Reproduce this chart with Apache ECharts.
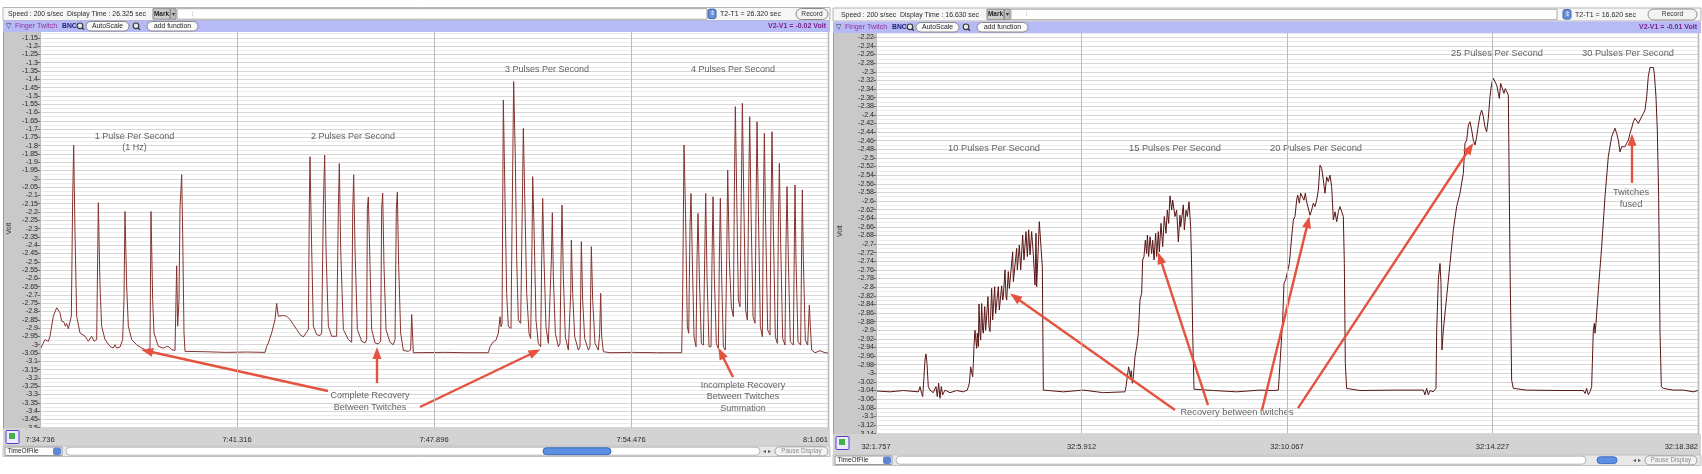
<!DOCTYPE html>
<html><head><meta charset="utf-8">
<script src="https://cdn.jsdelivr.net/npm/echarts/dist/echarts.min.js"></script>
<style>html,body{margin:0;padding:0;background:#fff}#c{width:1702px;height:474px}</style>
</head><body><div id="c"></div>
<script>
// ---------------- DATA ----------------
const leftTickLabels = ['7:34.736','7:41.316','7:47.896','7:54.476','8:1.061'];
const rightTickLabels = ['32:1.757','32:5.912','32:10.067','32:14.227','32:18.382'];
const leftSpan = 26.325;   // seconds displayed (left)
const rightSpan = 16.625;  // seconds displayed (right)

// Finger twitch trace, left recording: [time s, volt]
const leftTrace = [
[0.000,-3.030],[0.167,-2.969],[0.278,-2.979],[0.334,-2.949],[0.445,-2.828],[0.557,-2.777],[0.668,-2.807],[0.724,-2.858],[0.802,-2.864],[0.846,-2.888],[0.891,-2.872],[0.947,-2.904],[1.002,-2.915],[1.047,-2.828],[1.091,-2.120],[1.125,-1.797],[1.169,-2.322],[1.225,-2.828],[1.336,-2.929],[1.503,-2.949],[1.615,-2.979],[1.726,-2.949],[1.804,-2.979],[1.893,-2.969],[1.949,-2.144],[2.004,-2.646],[2.060,-2.888],[2.171,-2.969],[2.338,-3.010],[2.450,-3.020],[2.505,-3.000],[2.561,-3.020],[2.672,-3.014],[2.761,-2.969],[2.806,-2.727],[2.839,-2.197],[2.895,-2.646],[2.951,-2.888],[3.062,-2.969],[3.229,-3.000],[3.396,-3.020],[3.563,-3.034],[3.675,-3.020],[3.708,-2.197],[3.764,-2.727],[3.808,-2.929],[3.953,-3.010],[4.120,-3.020],[4.232,-3.010],[4.321,-3.014],[4.399,-3.030],[4.510,-3.034],[4.566,-2.524],[4.599,-2.888],[4.644,-2.727],[4.677,-2.181],[4.733,-1.975],[4.766,-2.322],[4.811,-2.929],[4.844,-3.040],[5.500,-3.042],[6.200,-3.046],[6.900,-3.044],[7.517,-3.046],
[7.572,-3.010],[7.628,-2.989],[7.740,-2.929],[7.851,-2.848],[7.907,-2.751],[7.962,-2.828],[8.018,-2.818],[8.129,-2.824],[8.241,-2.828],[8.352,-2.848],[8.463,-2.878],[8.575,-2.908],[8.686,-2.939],[8.798,-2.953],[8.887,-2.929],[8.965,-2.908],[8.998,-2.161],[9.020,-1.867],[9.076,-2.423],[9.132,-2.888],[9.243,-2.939],[9.354,-2.945],[9.410,-2.929],[9.466,-2.161],[9.510,-1.857],[9.555,-2.423],[9.633,-2.888],[9.744,-2.949],[9.911,-2.949],[9.967,-2.181],[10.000,-1.908],[10.045,-2.423],[10.134,-2.908],[10.301,-2.969],[10.412,-2.985],[10.446,-2.201],[10.479,-1.975],[10.524,-2.423],[10.602,-2.908],[10.747,-2.979],[10.858,-2.989],[10.913,-2.969],[10.936,-2.181],[10.969,-2.110],[11.025,-2.524],[11.080,-2.908],[11.192,-2.989],[11.303,-2.995],[11.381,-2.979],[11.414,-2.181],[11.448,-2.086],[11.492,-2.524],[11.559,-2.908],[11.693,-2.985],[11.804,-3.000],[11.860,-2.969],[11.904,-2.181],[11.938,-2.080],[11.982,-2.524],[12.049,-2.929],[12.138,-3.034],[12.305,-3.040],[12.383,-3.030],[12.417,-2.818],[12.472,-3.048],[13.500,-3.046],[14.300,-3.048],[14.978,-3.048],
[15.034,-3.012],[15.145,-2.982],[15.234,-2.972],[15.312,-2.931],[15.368,-2.831],[15.401,-2.891],[15.435,-2.871],[15.479,-1.525],[15.535,-2.128],[15.590,-2.690],[15.646,-2.891],[15.735,-2.901],[15.769,-2.289],[15.824,-1.414],[15.880,-1.887],[15.925,-2.489],[15.980,-2.851],[16.058,-2.871],[16.103,-2.289],[16.147,-1.696],[16.203,-2.188],[16.259,-2.690],[16.337,-2.931],[16.392,-2.962],[16.437,-2.389],[16.459,-1.987],[16.504,-2.289],[16.570,-2.851],[16.648,-2.992],[16.726,-3.012],[16.760,-2.489],[16.793,-2.118],[16.838,-2.489],[16.904,-2.891],[16.982,-2.992],[17.038,-3.002],[17.083,-2.489],[17.116,-2.204],[17.149,-2.590],[17.216,-2.931],[17.317,-3.012],[17.372,-2.992],[17.406,-2.489],[17.439,-2.158],[17.484,-2.590],[17.550,-2.952],[17.651,-3.032],[17.706,-3.022],[17.729,-2.690],[17.751,-2.369],[17.795,-2.690],[17.862,-2.952],[17.985,-3.032],[18.040,-3.012],[18.063,-2.690],[18.085,-2.379],[18.129,-2.731],[18.196,-2.962],[18.319,-3.032],[18.374,-3.012],[18.397,-2.690],[18.419,-2.409],[18.464,-2.731],[18.541,-2.992],[18.653,-3.032],[18.697,-2.931],[18.731,-2.690],[18.764,-2.952],[18.820,-3.042],[19.043,-3.048],[19.800,-3.046],[20.600,-3.048],[21.437,-3.048],
[21.470,-2.690],[21.515,-1.796],[21.570,-2.248],[21.626,-2.891],[21.671,-2.931],[21.715,-2.289],[21.749,-2.088],[21.793,-2.489],[21.849,-2.952],[21.916,-3.012],[21.949,-2.489],[21.983,-2.208],[22.027,-2.590],[22.094,-2.992],[22.161,-3.002],[22.205,-2.489],[22.239,-2.088],[22.283,-2.590],[22.350,-3.012],[22.417,-3.012],[22.450,-2.489],[22.484,-2.108],[22.528,-2.590],[22.595,-2.992],[22.662,-3.022],[22.695,-2.489],[22.729,-2.118],[22.773,-2.590],[22.829,-3.012],[22.896,-3.032],[22.940,-2.489],[22.974,-1.947],[23.029,-2.489],[23.096,-2.771],[23.163,-2.831],[23.196,-2.088],[23.230,-1.565],[23.274,-2.088],[23.330,-2.731],[23.386,-2.771],[23.430,-2.088],[23.464,-1.545],[23.508,-2.088],[23.575,-2.791],[23.631,-2.851],[23.675,-2.088],[23.709,-1.625],[23.753,-2.188],[23.820,-2.831],[23.887,-2.871],[23.920,-2.188],[23.954,-1.656],[23.998,-2.188],[24.065,-2.891],[24.132,-2.952],[24.165,-2.188],[24.199,-1.726],[24.243,-2.289],[24.310,-2.911],[24.388,-2.942],[24.421,-2.188],[24.455,-1.716],[24.499,-2.289],[24.566,-2.952],[24.633,-2.992],[24.666,-2.289],[24.700,-1.907],[24.744,-2.389],[24.811,-2.962],[24.889,-3.002],[24.922,-2.389],[24.956,-2.047],[25.000,-2.489],[25.067,-2.982],[25.167,-3.002],[25.201,-2.389],[25.223,-2.037],[25.256,-2.489],[25.323,-2.982],[25.412,-3.002],[25.446,-2.389],[25.468,-2.067],[25.501,-2.489],[25.568,-2.972],[25.646,-3.002],[25.680,-2.851],[25.702,-2.761],[25.735,-2.891],[25.780,-3.032],[25.891,-3.048],[26.058,-3.036],[26.225,-3.048],[26.325,-3.050]
];

// Finger twitch trace, right recording: [time s, volt]
const rightTrace = [
[0.000,-3.041],[0.283,-3.043],[0.553,-3.040],[0.856,-3.043],[0.890,-3.031],[0.923,-3.047],[0.944,-3.054],[0.971,-3.008],[0.991,-2.969],[1.011,-2.955],[1.031,-2.977],[1.058,-3.031],[1.092,-3.039],[1.160,-3.045],[1.213,-3.031],[1.240,-3.054],[1.267,-3.023],[1.294,-3.058],[1.321,-3.031],[1.348,-3.050],[1.395,-3.039],[1.496,-3.045],[1.631,-3.040],[1.766,-3.043],[1.847,-3.039],[1.888,-3.023],[1.915,-2.985],[1.935,-2.981],[1.955,-3.008],[1.969,-2.977],[1.982,-2.938],[2.002,-2.900],[2.022,-2.898],[2.036,-2.942],[2.049,-2.907],[2.070,-2.938],
[2.083,-2.839],[2.103,-2.907],[2.117,-2.923],[2.137,-2.838],[2.157,-2.900],[2.171,-2.907],[2.198,-2.845],[2.218,-2.900],[2.238,-2.900],[2.265,-2.822],[2.285,-2.892],[2.306,-2.903],[2.339,-2.803],[2.360,-2.876],[2.400,-2.799],[2.420,-2.861],[2.440,-2.861],[2.474,-2.799],[2.494,-2.853],[2.508,-2.853],[2.541,-2.797],[2.562,-2.830],[2.575,-2.822],[2.609,-2.760],[2.629,-2.822],[2.643,-2.830],[2.676,-2.764],[2.697,-2.803],[2.710,-2.803],[2.764,-2.718],[2.778,-2.787],[2.791,-2.787],[2.845,-2.710],[2.858,-2.760],[2.899,-2.702],[2.926,-2.760],[2.946,-2.760],[2.966,-2.679],[2.993,-2.737],[3.013,-2.737],[3.034,-2.671],[3.061,-2.729],[3.081,-2.729],[3.088,-2.667],[3.115,-2.725],[3.148,-2.671],[3.182,-2.725],[3.216,-2.795],[3.236,-2.675],[3.249,-2.799],[3.283,-2.706],[3.303,-2.648],[3.317,-2.646],[3.337,-2.652],[3.364,-2.753],[3.384,-3.039],[3.418,-3.037],[3.789,-3.043],[4.193,-3.039],[4.598,-3.045],[5.036,-3.043],
[5.056,-3.031],[5.083,-3.008],[5.110,-2.985],[5.124,-2.982],[5.144,-3.008],[5.164,-2.994],[5.184,-3.023],[5.205,-3.008],[5.238,-2.961],[5.272,-2.938],[5.306,-2.907],[5.339,-2.830],[5.373,-2.814],[5.393,-2.737],[5.420,-2.729],[5.447,-2.691],[5.474,-2.722],[5.488,-2.679],[5.515,-2.729],[5.542,-2.683],[5.575,-2.722],[5.596,-2.691],[5.623,-2.737],[5.656,-2.675],[5.677,-2.729],[5.710,-2.671],[5.730,-2.718],[5.764,-2.652],[5.798,-2.706],[5.831,-2.636],[5.865,-2.675],[5.892,-2.621],[5.919,-2.652],[5.946,-2.588],[5.980,-2.621],[6.000,-2.598],[6.047,-2.636],[6.081,-2.621],[6.115,-2.695],[6.148,-2.633],[6.162,-2.660],[6.216,-2.609],[6.236,-2.667],[6.270,-2.621],[6.297,-2.636],[6.331,-2.602],[6.364,-2.660],[6.384,-2.753],[6.405,-2.907],[6.432,-3.037],[6.823,-3.040],[7.295,-3.043],[7.766,-3.039],[8.036,-3.040],
[8.137,-3.039],[8.171,-2.977],[8.225,-2.876],[8.252,-2.791],[8.286,-2.783],[8.319,-2.780],[8.360,-2.745],[8.407,-2.683],[8.441,-2.644],[8.474,-2.636],[8.508,-2.598],[8.528,-2.586],[8.562,-2.605],[8.589,-2.582],[8.623,-2.578],[8.656,-2.598],[8.683,-2.582],[8.710,-2.602],[8.744,-2.605],[8.778,-2.633],[8.811,-2.621],[8.845,-2.605],[8.879,-2.613],[8.912,-2.598],[8.946,-2.575],[8.980,-2.517],[9.014,-2.524],[9.047,-2.551],[9.081,-2.582],[9.115,-2.544],[9.148,-2.555],[9.182,-2.540],[9.216,-2.567],[9.250,-2.644],[9.283,-2.625],[9.317,-2.648],[9.351,-2.625],[9.384,-2.613],[9.418,-2.617],[9.452,-2.636],[9.472,-2.745],[9.492,-2.977],[9.519,-3.035],[9.789,-3.040],[10.463,-3.039],[11.070,-3.039],[11.103,-3.050],[11.137,-3.035],[11.171,-3.050],[11.205,-3.040],[11.272,-3.043],[11.326,-3.035],
[11.340,-2.900],[11.373,-2.783],[11.407,-2.745],[11.427,-2.791],[11.447,-2.946],[11.474,-2.900],[11.542,-2.822],[11.609,-2.745],[11.677,-2.667],[11.744,-2.613],[11.811,-2.582],[11.845,-2.586],[11.879,-2.536],[11.912,-2.466],[11.946,-2.459],[11.980,-2.424],[12.014,-2.416],[12.047,-2.435],[12.081,-2.459],[12.115,-2.470],[12.148,-2.451],[12.182,-2.424],[12.216,-2.401],[12.250,-2.389],[12.283,-2.404],[12.317,-2.428],[12.351,-2.439],[12.384,-2.408],[12.418,-2.358],[12.452,-2.327],[12.486,-2.315],[12.519,-2.319],[12.553,-2.331],[12.587,-2.350],[12.607,-2.362],[12.634,-2.327],[12.668,-2.331],[12.701,-2.350],[12.728,-2.339],[12.755,-2.342],[12.789,-2.354],[12.823,-2.745],[12.856,-3.016],[12.890,-3.035],[13.160,-3.039],[13.834,-3.040],[14.306,-3.040],[14.340,-3.047],[14.373,-3.035],[14.407,-3.050],[14.441,-3.043],[14.474,-3.031],
[14.488,-2.977],[14.508,-2.900],[14.528,-2.884],[14.542,-2.907],[14.562,-2.884],[14.609,-2.807],[14.677,-2.706],[14.744,-2.590],[14.811,-2.497],[14.879,-2.451],[14.946,-2.431],[14.980,-2.443],[15.014,-2.459],[15.047,-2.486],[15.081,-2.474],[15.115,-2.470],[15.148,-2.474],[15.182,-2.466],[15.216,-2.459],[15.250,-2.443],[15.283,-2.431],[15.317,-2.416],[15.351,-2.408],[15.385,-2.412],[15.418,-2.420],[15.452,-2.412],[15.486,-2.408],[15.519,-2.397],[15.553,-2.389],[15.587,-2.358],[15.620,-2.311],[15.654,-2.290],[15.688,-2.288],[15.722,-2.290],[15.742,-2.304],[15.775,-2.358],[15.802,-2.435],[15.829,-2.590],[15.856,-2.900],[15.883,-3.031],[15.924,-3.035],[16.126,-3.039],[16.328,-3.039],[16.531,-3.043],[16.625,-3.040]
];

// Annotation texts: [time, volt, text]
const leftNotes = [
  [3.157,-1.778,'1 Pulse Per Second\n(1 Hz)'],
  [10.456,-1.742,'2 Pulses Per Second'],
  [16.937,-1.344,'3 Pulses Per Second'],
  [23.151,-1.344,'4 Pulses Per Second'],
  [11.024,-3.342,'Complete Recovery\nBetween Twitches'],
  [23.485,-3.315,'Incomplete Recovery\nBetween Twitches\nSummation']
];
const rightNotes = [
  [2.387,-2.477,'10 Pulses Per Second'],
  [6.047,-2.477,'15 Pulses Per Second'],
  [8.899,-2.477,'20 Pulses Per Second'],
  [12.560,-2.257,'25 Pulses Per Second'],
  [15.209,-2.257,'30 Pulses Per Second'],
  [15.270,-2.595,'Twitches\nfused'],
  [7.301,-3.092,'Recovery between twitches']
];
// Arrows: [fromTime, fromVolt, toTime, toVolt]
const leftArrows = [
  [9.621,-3.279,3.575,-3.038],
  [11.258,-3.231,11.258,-3.050],
  [12.695,-3.375,16.536,-3.044],
  [23.151,-3.195,22.750,-3.050]
];
const rightArrows = [
  [6.047,-3.085,2.811,-2.823],
  [6.715,-3.074,5.744,-2.732],
  [7.807,-3.085,8.737,-2.649],
  [8.535,-3.081,12.014,-2.477],
  [15.290,-2.558,15.290,-2.458]
];

// ---------------- CHART ----------------
const FONT = '"Liberation Sans", Arial, Helvetica, sans-serif';
const chart = echarts.init(document.getElementById('c'), null, {renderer:'canvas'});

function R(x,y,w,h,fill,stroke,r,z){
  return {type:'rect',silent:true,z:z==null?20:z,shape:{x:x,y:y,width:w,height:h,r:r||0},
    style:{fill:fill,stroke:stroke||null,lineWidth:stroke?1:0}};
}
function T(x,y,text,size,fill,align,weight,z){
  return {type:'text',silent:true,z:z==null?22:z,x:x,y:y,
    style:{text:text,fontSize:size,fontFamily:FONT,fontWeight:weight||'normal',fill:fill||'#222',
      align:align||'left',verticalAlign:'middle',textAlign:align||'left',textVerticalAlign:'middle'}};
}
function L(x1,y1,x2,y2,stroke,w,z){
  return {type:'line',silent:true,z:z==null?21:z,shape:{x1:x1,y1:y1,x2:x2,y2:y2},style:{stroke:stroke,lineWidth:w||1}};
}
function MAG(cx,cy){
  return [{type:'circle',silent:true,z:22,shape:{cx:cx,cy:cy,r:2.8},style:{fill:'#e9e9e9',stroke:'#3a3a3a',lineWidth:1.2}},
          L(cx+2,cy+2,cx+4,cy+4,'#3a3a3a',1.4,22)];
}

function panelChrome(o){
  const g = [];
  // toolbar
  g.push(R(o.x0,o.tb,o.w,13,'#f6f6f6','#b5b5b5',0,20));
  g.push(T(o.speedX,o.tb+6.6,'Speed : 200 s/sec  Display Time : '+o.disp+' sec',6.9,'#2a2a2a'));
  g.push(R(o.markX,o.tb+1.2,17,10.5,'#cdcdcd','#8a8a8a',0,21));
  g.push(T(o.markX+8.5,o.tb+6.6,'Mark',6.4,'#222','center','bold'));
  g.push(R(o.markX+17.5,o.tb+1.2,5.5,10.5,'#bdbdbd','#8a8a8a',0,21));
  g.push(T(o.markX+20.2,o.tb+6.6,'▾',6,'#333','center'));
  g.push(R(o.markX+24,o.tb+1.2,o.fieldW,10.5,'#ffffff','#a8a8a8',0,21));
  g.push(T(o.markX+40,o.tb+6.6,'⁝',6,'#777','center'));
  g.push(R(o.iconX,o.tb+1.6,8,9.5,'#6a8fd8','#3f64b0',2,21));
  g.push(T(o.iconX+4,o.tb+6.3,'⇕',6,'#fff','center'));
  g.push(T(o.iconX+12,o.tb+6.6,'T2-T1 = '+o.t21+' sec',7,'#2a2a2a'));
  g.push(R(o.recX,o.tb+1,o.recW,11,'#f3f3f3','#8a8a8a',5.5,21));
  g.push(T(o.recX+o.recW/2,o.tb+6.6,'Record',6.6,'#333','center'));
  // purple channel bar
  g.push(R(o.x0,o.pb,o.w,o.pbH,'#b6bbf6',null,0,20));
  g.push(T(o.x0+5.5,o.pb+5.8,'▽',6.5,'#333','center'));
  g.push(T(o.ftX,o.pb+6,'Finger Twitch',7.1,'#9b2c9c'));
  g.push(T(o.ftX+47,o.pb+6,'BNC',6.8,'#1c1c78','left','bold'));
  MAG(o.ftX+65,o.pb+5.3).forEach(e=>g.push(e));
  g.push(R(o.ftX+71,o.pb+1,43,9.5,'#fafafa','#888',4.75,21));
  g.push(T(o.ftX+92.5,o.pb+6,'AutoScale',6.8,'#222','center'));
  MAG(o.ftX+121,o.pb+5.3).forEach(e=>g.push(e));
  g.push(R(o.ftX+132,o.pb+1,51,9.5,'#fafafa','#888',4.75,21));
  g.push(T(o.ftX+157.5,o.pb+6,'add function',6.8,'#222','center'));
  g.push(T(o.x0+o.w-4,o.pb+6,'V2-V1 = '+o.v21+' Volt',7,'#7a1f8c','right','bold'));
  // y-axis side panel
  g.push(R(o.x0,o.pb+o.pbH,o.sideW,o.band-(o.pb+o.pbH),'#c9c9c9',null,0,0));
  g.push(L(o.x0+0.5,o.pb+o.pbH,o.x0+0.5,o.band,'#9a9a9a',1,1));
  // plot right border
  g.push(L(o.plotR+0.5,o.pb+o.pbH,o.plotR+0.5,o.band,'#94a0e6',1.5,6));
  // bottom time band
  g.push(R(o.x0,o.band,o.w,o.bandH,'#d3d3d3',null,0,6));
  g.push(R(o.x0+3,o.band+2.5,13,13,'#ecebff','#5b3fd0',1,7));
  g.push(R(o.x0+6,o.band+5,6,6,'#44b04c',null,0,8));
  // scroll row
  const sr = o.band+o.bandH;
  g.push(R(o.x0,sr,o.w,10.5,'#e8e8e8','#c2c2c2',0,20));
  g.push(R(o.x0+2,sr+1,57,8.5,'#fdfdfd','#999',0,21));
  g.push(T(o.x0+4.5,sr+5.3,'TimeOfFile',6.4,'#222'));
  g.push(R(o.x0+50,sr+1.5,8,7.5,'#5f87d8',null,2,22));
  g.push(R(o.x0+63,sr+1.2,o.trackW,8,'#ffffff','#b5b5b5',4,21));
  g.push(R(o.thumbX,sr+1.8,o.thumbW,6.8,'#5c8fe2','#3b6cc4',3.4,22));
  g.push(T(o.pauseX-8,sr+5.3,'◂ ▸',5.5,'#555','center'));
  g.push(R(o.pauseX,sr+0.8,o.pauseW,9,'#f3f3f3','#a0a0a0',4.5,21));
  g.push(T(o.pauseX+o.pauseW/2,sr+5.3,'Pause Display',6.3,'#8a8a8a','center'));
  return g;
}

const graphics = [].concat(
  panelChrome({x0:3,w:827,tb:7.5,speedX:8,disp:'26.325',markX:153,fieldW:530,iconX:708,t21:'26.320',recX:796,recW:32,
    pb:20.5,pbH:11.5,ftX:15,v21:'-0.02',sideW:37,band:428,bandH:18,plotR:828,trackW:694,thumbX:543,thumbW:68,pauseX:775,pauseW:53}),
  panelChrome({x0:833,w:868,tb:8,speedX:841,disp:'16.630',markX:987,fieldW:546,iconX:1563,t21:'16.620',recX:1648,recW:49,
    pb:21.5,pbH:11.5,ftX:845,v21:'-0.01',sideW:43,band:434,bandH:21,plotR:1698,trackW:690,thumbX:1597,thumbW:20,pauseX:1645,pauseW:52})
);

function xAx(gi, span, labels){
  const step = span/4;
  return {type:'value',gridIndex:gi,min:0,max:span,interval:step,z:12,
    axisLine:{show:false},axisTick:{show:false},
    splitLine:{show:true,lineStyle:{color:'#bdbdbd',width:1}},
    axisLabel:{show:true,fontSize:7.5,fontFamily:FONT,color:'#2a2a2a',margin:gi===0?8:9,
      showMinLabel:true,showMaxLabel:true,alignMaxLabel:'right',
      formatter:function(v){return labels[Math.round(v/step)]||'';}}};
}
function yAx(gi,min,max,interval,gap){
  return {type:'value',gridIndex:gi,min:min,max:max,interval:interval,z:2,
    name:'Volt',nameLocation:'middle',nameRotate:90,nameGap:gap,
    nameTextStyle:{fontSize:7,fontFamily:FONT,color:'#333'},
    axisLine:{show:false},
    axisTick:{show:true,inside:false,length:2.5,lineStyle:{color:'#555',width:0.8}},
    axisLabel:{show:true,fontSize:7,fontFamily:FONT,color:'#2a2a2a',margin:2},
    splitLine:{show:true,lineStyle:{color:'#d6d6d6',width:1}},
    minorTick:{show:false,splitNumber:2},
    minorSplitLine:{show:true,lineStyle:{color:'#ececec',width:1}}};
}
function arrowLines(arr){
  return arr.map(a=>[{coord:[a[0],a[1]]},{coord:[a[2],a[3]]}]);
}
function notes(arr){
  return arr.map(n=>({value:[n[0],n[1]],txt:n[2]}));
}
const arrowStyle = {color:'#e4533f',width:2.4,type:'solid',opacity:1};
function markArrows(arr){
  return {silent:true,symbol:['none','triangle'],symbolSize:[9,12],symbolRotate:null,
    label:{show:false},lineStyle:arrowStyle,itemStyle:{color:'#e4533f'},
    emphasis:{disabled:true},data:arrowLines(arr)};
}

const option = {
  backgroundColor:'#ffffff',
  animation:false,
  textStyle:{fontFamily:FONT},
  grid:[
    {left:40,top:29.5,width:788,height:398.2,containLabel:false},
    {left:876,top:28.7,width:822,height:404.9,containLabel:false}
  ],
  xAxis:[xAx(0,leftSpan,leftTickLabels), xAx(1,rightSpan,rightTickLabels)],
  yAxis:[yAx(0,-3.5,-1.1,0.05,27), yAx(1,-3.14,-2.2,0.02,32)],
  graphic:{elements:graphics},
  series:[
    {type:'line',name:'left',xAxisIndex:0,yAxisIndex:0,data:leftTrace,symbol:'none',z:3,
      lineStyle:{color:'#86332f',width:1},markLine:markArrows(leftArrows)},
    {type:'line',name:'right',xAxisIndex:1,yAxisIndex:1,data:rightTrace,symbol:'none',z:3,
      lineStyle:{color:'#5a1616',width:1},markLine:markArrows(rightArrows)},
    {type:'scatter',xAxisIndex:0,yAxisIndex:0,data:notes(leftNotes),symbolSize:1,z:4,silent:true,
      itemStyle:{color:'rgba(0,0,0,0)'},
      label:{show:true,position:'inside',formatter:p=>p.data.txt,fontSize:9,lineHeight:11.5,
        fontFamily:FONT,color:'#3c3c3c',align:'center'}},
    {type:'scatter',xAxisIndex:1,yAxisIndex:1,data:notes(rightNotes),symbolSize:1,z:4,silent:true,
      itemStyle:{color:'rgba(0,0,0,0)'},
      label:{show:true,position:'inside',formatter:p=>p.data.txt,fontSize:9.3,lineHeight:12,
        fontFamily:FONT,color:'#3c3c3c',align:'center'}}
  ]
};
chart.setOption(option);
</script>
</body></html>
